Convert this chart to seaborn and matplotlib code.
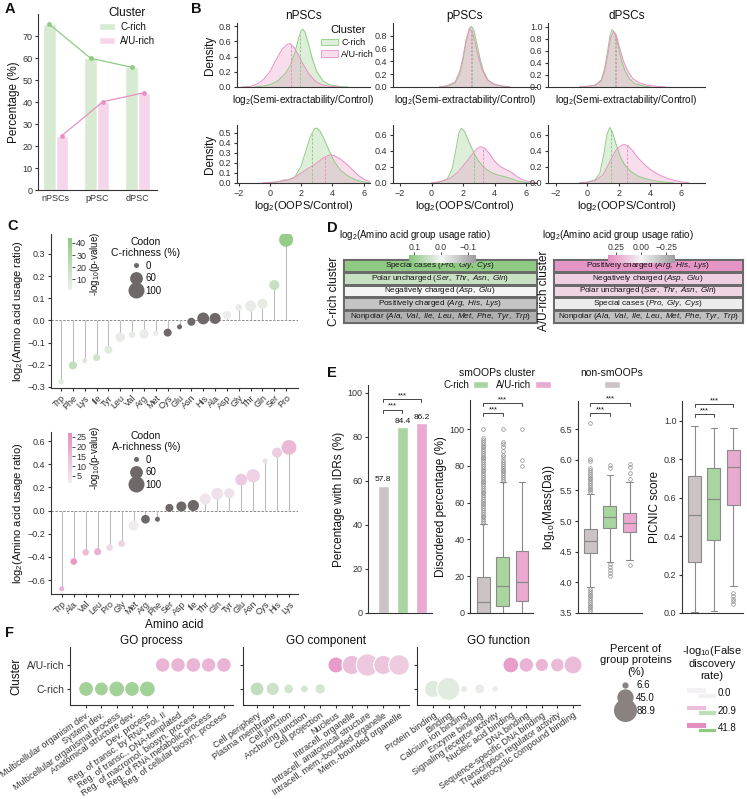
import numpy as np
import pandas as pd
import matplotlib
matplotlib.use('Agg')
import matplotlib.pyplot as plt
import matplotlib.cm as cm
import seaborn as sns
from matplotlib.colors import LinearSegmentedColormap, Normalize, to_rgba
from matplotlib.patches import Patch, Rectangle
from matplotlib.lines import Line2D
from matplotlib.legend_handler import HandlerBase

sns.set_theme(style='ticks')
plt.rcParams['font.family'] = ['Liberation Sans', 'DejaVu Sans']
plt.rcParams.update({
    'mathtext.fontset': 'custom', 'mathtext.rm': 'Liberation Sans',
    'mathtext.it': 'Liberation Sans:italic', 'mathtext.bf': 'Liberation Sans:bold',
    'axes.linewidth': 0.8, 'xtick.major.width': 0.8, 'ytick.major.width': 0.8,
    'xtick.major.size': 2.5, 'ytick.major.size': 2.5,
    'xtick.labelsize': 6.5, 'ytick.labelsize': 6.5, 'axes.labelsize': 8,
    'axes.edgecolor': '#333333', 'xtick.color': '#333333', 'ytick.color': '#333333',
    'text.color': '#111111', 'axes.labelcolor': '#111111',
    'xtick.major.pad': 1.5, 'ytick.major.pad': 1.5, 'axes.labelpad': 2,
    'legend.fontsize': 7,
})

# ------------------------------------------------------------------ data
# A
a_cells = ['nPSCs', 'pPSC', 'dPSC']
a_crich = [75.3, 59.9, 55.8]
a_aurich = [24.7, 40.1, 44.2]

# B  (density curves: x positions and density values)
b_cells = ['nPSCs', 'pPSCs', 'dPSCs']
semi_nPSCs_c_x = [-1.0, -0.5, 0.0, 0.5, 1.0, 1.3, 1.6, 1.85, 2.0, 2.1, 2.25, 2.45, 2.7, 3.0, 3.4, 3.8, 4.5, 5.0]
semi_nPSCs_c_y = [0.0, 0.01, 0.03, 0.08, 0.18, 0.28, 0.45, 0.65, 0.74, 0.76, 0.72, 0.58, 0.38, 0.2, 0.08, 0.03, 0.005, 0.0]
semi_nPSCs_a_x = [-1.8, -1.2, -0.8, -0.4, 0.0, 0.4, 0.8, 1.1, 1.3, 1.55, 1.8, 2.1, 2.5, 2.9, 3.3, 3.8, 4.5]
semi_nPSCs_a_y = [0.0, 0.01, 0.04, 0.1, 0.2, 0.36, 0.5, 0.56, 0.57, 0.52, 0.43, 0.31, 0.17, 0.08, 0.03, 0.01, 0.0]
semi_pPSCs_c_x = [0.5, 1.0, 1.5, 1.8, 2.0, 2.2, 2.4, 2.53, 2.7, 2.9, 3.1, 3.3, 3.6, 4.0, 4.5, 5.0]
semi_pPSCs_c_y = [0.0, 0.01, 0.06, 0.2, 0.42, 0.7, 0.9, 0.95, 0.88, 0.65, 0.42, 0.25, 0.1, 0.04, 0.01, 0.0]
semi_pPSCs_a_x = [0.5, 1.0, 1.5, 1.8, 2.0, 2.2, 2.42, 2.6, 2.8, 3.0, 3.2, 3.5, 3.9, 4.4, 5.0]
semi_pPSCs_a_y = [0.0, 0.02, 0.08, 0.25, 0.47, 0.75, 0.92, 0.86, 0.66, 0.45, 0.28, 0.13, 0.05, 0.02, 0.0]
semi_dPSCs_c_x = [-0.5, 0.0, 0.5, 0.9, 1.1, 1.3, 1.45, 1.58, 1.75, 1.95, 2.15, 2.4, 2.7, 3.0, 3.5, 4.0]
semi_dPSCs_c_y = [0.0, 0.01, 0.03, 0.12, 0.3, 0.6, 0.85, 0.95, 0.9, 0.7, 0.47, 0.27, 0.13, 0.06, 0.02, 0.0]
semi_dPSCs_a_x = [-0.5, 0.0, 0.5, 0.9, 1.1, 1.3, 1.5, 1.68, 1.85, 2.05, 2.3, 2.6, 2.9, 3.3, 3.8, 4.5, 5.0]
semi_dPSCs_a_y = [0.0, 0.01, 0.03, 0.1, 0.25, 0.52, 0.82, 0.92, 0.86, 0.66, 0.43, 0.25, 0.14, 0.07, 0.03, 0.01, 0.0]
oops_nPSCs_c_x = [0.0, 0.5, 0.9, 1.2, 1.6, 2.0, 2.3, 2.6, 2.85, 3.0, 3.2, 3.5, 3.8, 4.1, 4.5, 5.0, 5.5, 6.0, 6.5]
oops_nPSCs_c_y = [0.0, 0.01, 0.03, 0.03, 0.06, 0.17, 0.32, 0.47, 0.54, 0.55, 0.52, 0.43, 0.32, 0.22, 0.13, 0.07, 0.03, 0.01, 0.0]
oops_nPSCs_a_x = [-0.5, 0.3, 1.0, 1.5, 2.0, 2.5, 3.0, 3.4, 3.8, 4.1, 4.5, 4.9, 5.3, 5.7, 6.1, 6.5, 7.0]
oops_nPSCs_a_y = [0.0, 0.01, 0.025, 0.05, 0.1, 0.15, 0.2, 0.25, 0.28, 0.275, 0.24, 0.19, 0.13, 0.07, 0.03, 0.01, 0.0]
oops_pPSCs_c_x = [0.0, 0.5, 1.0, 1.3, 1.55, 1.75, 1.9, 2.1, 2.4, 2.7, 3.0, 3.4, 3.8, 4.2, 4.6, 5.0, 5.4, 5.8, 6.3]
oops_pPSCs_c_y = [0.0, 0.01, 0.05, 0.17, 0.42, 0.63, 0.68, 0.64, 0.5, 0.37, 0.27, 0.18, 0.13, 0.1, 0.08, 0.06, 0.03, 0.01, 0.0]
oops_pPSCs_a_x = [0.0, 0.6, 1.2, 1.7, 2.2, 2.6, 2.9, 3.15, 3.4, 3.7, 4.0, 4.4, 4.8, 5.1, 5.5, 5.9, 6.4, 6.9]
oops_pPSCs_a_y = [0.0, 0.02, 0.06, 0.14, 0.26, 0.36, 0.43, 0.45, 0.43, 0.36, 0.27, 0.2, 0.16, 0.13, 0.07, 0.03, 0.01, 0.0]
oops_dPSCs_c_x = [-0.5, 0.0, 0.5, 0.8, 1.05, 1.25, 1.43, 1.6, 1.85, 2.1, 2.4, 2.8, 3.2, 3.6, 4.0, 4.5, 5.0, 5.5]
oops_dPSCs_c_y = [0.0, 0.01, 0.04, 0.12, 0.35, 0.6, 0.69, 0.63, 0.47, 0.33, 0.22, 0.14, 0.09, 0.06, 0.04, 0.02, 0.01, 0.0]
oops_dPSCs_a_x = [-0.5, 0.0, 0.5, 1.0, 1.4, 1.8, 2.1, 2.35, 2.6, 2.9, 3.2, 3.6, 4.0, 4.4, 4.8, 5.2, 5.6, 6.0, 6.5]
oops_dPSCs_a_y = [0.0, 0.01, 0.03, 0.1, 0.25, 0.4, 0.46, 0.48, 0.46, 0.4, 0.32, 0.24, 0.17, 0.12, 0.08, 0.05, 0.03, 0.015, 0.0]
semi_median_c = [1.9, 2.6, 1.75]
semi_median_a = [1.37, 2.5, 1.85]
oops_median_c = [2.67, 2.7, 1.5]
oops_median_a = [3.55, 3.3, 2.52]

# C
c_aa = ['Trp', 'Phe', 'Lys', 'Ile', 'Tyr', 'Leu', 'Val', 'Arg', 'Met', 'Cys',
        'Glu', 'Asn', 'His', 'Ala', 'Asp', 'Gly', 'Thr', 'Gln', 'Ser', 'Pro']
c_ratio = [-0.276, -0.203, -0.182, -0.168, -0.132, -0.076, -0.064, -0.061, -0.058, -0.055,
           -0.029, -0.006, 0.009, 0.009, 0.024, 0.058, 0.065, 0.076, 0.16, 0.364]
c_logp = [8, 20, 10, 15, 7, 4, 4, 3, 3, 0.5, 0.5, 0.5, 0.5, 0.5, 3, 4, 4, 5, 18, 40]
c_richness = [0, 17, 0, 11, 17, 28, 8, 28, 0, 17, 0, 17, 50, 42, 17, 8, 42, 33, 33, 75]
a_aa = ['Trp', 'Ala', 'Val', 'Leu', 'Pro', 'Gly', 'Met', 'Arg', 'Phe', 'Ser',
        'Asp', 'Ile', 'Thr', 'Gln', 'Tyr', 'Glu', 'Asn', 'Cys', 'His', 'Lys']
a_ratio = [-0.675, -0.44, -0.36, -0.355, -0.32, -0.285, -0.13, -0.075, -0.075, 0.023,
           0.035, 0.043, 0.10, 0.145, 0.15, 0.267, 0.30, 0.43, 0.50, 0.545]
a_logp = [18, 24, 15, 18, 7, 9, 2, 0.5, 0.5, 0.5, 0.5, 0.5, 4, 5, 5, 11, 9, 6, 10, 16]
a_richness = [0, 8, 8, 11, 8, 8, 33, 22, 0, 17, 33, 44, 42, 50, 33, 50, 67, 0, 33, 83]

# D
d_groups_c = ['Special cases', 'Polar uncharged', 'Negatively charged', 'Positively charged', 'Nonpolar']
d_members_c = ['Pro, Gly, Cys', 'Ser, Thr, Asn, Gln', 'Asp, Glu', 'Arg, His, Lys',
               'Ala, Val, Ile, Leu, Met, Phe, Tyr, Trp']
d_ratio_c = [0.11, 0.05, 0.0, -0.07, -0.1]
d_groups_au = ['Positively charged', 'Negatively charged', 'Polar uncharged', 'Special cases', 'Nonpolar']
d_members_au = ['Arg, His, Lys', 'Asp, Glu', 'Ser, Thr, Asn, Gln', 'Pro, Gly, Cys',
                'Ala, Val, Ile, Leu, Met, Phe, Tyr, Trp']
d_ratio_au = [0.30, 0.12, 0.10, -0.03, -0.2]

# E
e_groups = ['non-smOOPs', 'C-rich', 'A/U-rich']
e_idr_pct = [57.8, 84.4, 86.2]
dis_med = [6, 14.5, 16.7]
dis_q1 = [0, 3.6, 6.7]
dis_q3 = [19.6, 30.4, 33.5]
dis_lo = [0, 0, 0]
dis_hi = [48.5, 71, 71]
dis_fliers_non = [49, 50, 51, 52, 53, 54, 55, 56, 57, 58, 59, 60, 61, 62, 63, 64, 65, 66, 67, 68, 69,
                  70, 71, 72, 73, 74, 75, 76, 77, 78, 79, 80, 81, 82, 83, 84, 85, 86, 87, 88, 89,
                  90, 91, 92, 93, 94, 95, 100]
dis_fliers_c = [72, 73, 74, 75, 76, 77, 78, 79, 80, 81, 82, 83, 85, 86, 88, 90, 92, 93, 100]
dis_fliers_au = [80, 83, 100]
mass_med = [4.68, 5.07, 4.97]
mass_q1 = [4.48, 4.88, 4.82]
mass_q3 = [4.87, 5.24, 5.14]
mass_lo = [3.92, 4.33, 4.37]
mass_hi = [5.44, 5.75, 5.64]
mass_fliers_non = [3.53, 3.56, 3.59, 3.62, 3.65, 3.68, 3.71, 3.74, 3.77, 3.8, 3.83, 3.86, 3.89,
                   5.47, 5.5, 5.53, 5.56, 5.59, 5.62, 5.65, 5.68, 5.71, 5.74, 5.77, 5.8, 5.83, 5.86,
                   5.98, 6.01, 6.6]
mass_fliers_c = [4.1, 4.15, 4.2, 4.25, 4.3, 5.86, 5.92]
mass_fliers_au = [4.29, 5.68, 5.78, 5.88, 5.93]
pic_med = [0.51, 0.595, 0.76]
pic_q1 = [0.267, 0.379, 0.564]
pic_q3 = [0.716, 0.756, 0.85]
pic_lo = [0.003, 0.012, 0.14]
pic_hi = [0.974, 0.963, 0.963]
pic_fliers_non = []
pic_fliers_c = []
pic_fliers_au = [0.045, 0.06, 0.075, 0.09, 0.105]

# F
go_process_terms = ['Multicellular organism dev.', 'System dev.', 'Multicellular organismal process',
                    'Anatomical structure dev.', 'Dev. process', 'Reg. of transc. by RNA Pol. II',
                    'Reg. of transc., DNA-templated', 'Reg. of macromol. biosyn. process',
                    'Reg. of RNA metabolic process', 'Reg. of cellular biosyn. process']
go_process_pct = [38, 33, 43, 38, 43, 36, 36, 37, 36, 37]
go_process_fdr = [33, 33, 33, 33, 33, 25, 25, 25, 25, 25]
go_component_terms = ['Cell periphery', 'Plasma membrane', 'Cell junction', 'Anchoring junction',
                      'Cell projection', 'Nucleus', 'Intracell. organelle',
                      'Intracell. anatomical structure', 'Intracell. mem.-bounded organelle',
                      'Mem.-bounded organelle']
go_component_pct = [33, 30, 17, 11, 19, 44, 63, 85, 63, 72]
go_component_fdr = [20, 16, 13, 12, 12, 36, 21, 17, 19, 16]
go_function_terms = ['Protein binding', 'Binding', 'Calcium ion binding', 'Enzyme binding',
                     'Signaling receptor activity', 'Nucleic acid binding', 'DNA binding',
                     'Sequence-specific DNA binding', 'Transcription regulator activity',
                     'Heterocyclic compound binding']
go_function_pct = [50, 88.9, 9, 17, 7.5, 43, 36, 30, 33, 55]
go_function_fdr = [8, 7, 5, 4, 3, 34, 26, 25, 23, 22]
go_cluster = ['C-rich'] * 5 + ['A/U-rich'] * 5
size_legend_vals = [6.6, 45.0, 88.9]
fdr_legend_vals = [0.0, 20.9, 41.8]

# ------------------------------------------------------------------ styling
W, H = 747, 799
fig = plt.figure(figsize=(W / 100, H / 100), dpi=100)


def add_ax(x0, y0, x1, y1):
    return fig.add_axes([x0 / W, 1 - y1 / H, (x1 - x0) / W, (y1 - y0) / H])


def fxy(x, y):
    return (x / W, 1 - y / H)


GREEN = '#8fcc82'
PINK = '#e890c4'
A_GREEN_BAR = '#d7ebd3'
A_PINK_BAR = '#f6d6ea'
DARK = '#6f6868'
E_GREY = '#ccc4c4'
E_GREEN = '#a9d69e'
E_PINK = '#e9a9d0'
EDGE = '#8a8a8a'

for lab, (x, y) in zip('ABCDEF', [(5, 2), (191, 2), (7, 219), (327, 221), (327, 366), (5, 626)]):
    fig.text(*fxy(x, y), lab, fontsize=10.5, fontweight='bold', va='top', ha='left')

# ------------------------------------------------------------------ Panel A
axA = add_ax(38, 14, 157, 190)
dfA = pd.DataFrame({'cell': a_cells * 2, 'Cluster': ['C-rich'] * 3 + ['A/U-rich'] * 3,
                    'pct': a_crich + a_aurich})
sns.barplot(data=dfA, x='cell', y='pct', hue='Cluster', hue_order=['C-rich', 'A/U-rich'],
            palette=[A_GREEN_BAR, A_PINK_BAR], width=0.6, saturation=1, ax=axA, legend=False)
for cont, vals, col in zip(axA.containers, [a_crich, a_aurich], [GREEN, PINK]):
    xs = [p.get_x() + p.get_width() / 2 for p in cont]
    sns.lineplot(x=xs, y=vals, color=col, lw=0.9, marker='o', markersize=3.5,
                 markeredgewidth=0, ax=axA)
axA.set_xlim(-0.43, 2.47)
axA.set_ylim(0, 80)
axA.set_yticks(range(0, 71, 10))
axA.set_xlabel('')
axA.set_ylabel('Percentage (%)', fontsize=8.5)
axA.tick_params(axis='x', length=0, pad=3)
sns.despine(ax=axA)
axA.legend(handles=[Patch(fc=A_GREEN_BAR), Patch(fc=A_PINK_BAR)], labels=['C-rich', 'A/U-rich'],
           title='Cluster', loc='upper left', bbox_to_anchor=fxy(93, 1), bbox_transform=fig.transFigure,
           frameon=False, fontsize=7, title_fontsize=8.5, handlelength=1.7, handleheight=0.7,
           labelspacing=0.35, handletextpad=0.5, borderpad=0.1)

# ------------------------------------------------------------------ Panel B
semi_curves = [((semi_nPSCs_c_x, semi_nPSCs_c_y), (semi_nPSCs_a_x, semi_nPSCs_a_y)),
               ((semi_pPSCs_c_x, semi_pPSCs_c_y), (semi_pPSCs_a_x, semi_pPSCs_a_y)),
               ((semi_dPSCs_c_x, semi_dPSCs_c_y), (semi_dPSCs_a_x, semi_dPSCs_a_y))]
oops_curves = [((oops_nPSCs_c_x, oops_nPSCs_c_y), (oops_nPSCs_a_x, oops_nPSCs_a_y)),
               ((oops_pPSCs_c_x, oops_pPSCs_c_y), (oops_pPSCs_a_x, oops_pPSCs_a_y)),
               ((oops_dPSCs_c_x, oops_dPSCs_c_y), (oops_dPSCs_a_x, oops_dPSCs_a_y))]
b_cols = [(237, 370), (393, 537), (548, 705)]
b_xlims = [(-2.1, 6.4), (-2.45, 6.7), (-2.5, 7.5)]
b_top_ylim = [0.84, 1.0, 1.06]
b_top_ticks = [[0, 0.2, 0.4, 0.6, 0.8], [0, 0.2, 0.4, 0.6, 0.8], [0, 0.2, 0.4, 0.6, 0.8, 1.0]]
b_bot_ylim = [0.58, 0.72, 0.72]
b_bot_ticks = [[0, 0.1, 0.2, 0.3, 0.4, 0.5], [0, 0.2, 0.4, 0.6], [0, 0.2, 0.4, 0.6]]


def density_panel(ax, curves, medians_c, medians_a, i):
    for (xs, ys), med, col in zip(curves, [medians_c[i], medians_a[i]], [GREEN, PINK]):
        ax.fill_between(xs, ys, color=col, alpha=0.3, lw=0)
        sns.lineplot(x=xs, y=ys, color=col, lw=0.7, ax=ax)
        ax.vlines(med, 0, np.interp(med, xs, ys), color=col, lw=0.7, ls=(0, (2.5, 1.5)))


for i, (x0, x1) in enumerate(b_cols):
    axt = add_ax(x0, 23, x1, 87)
    density_panel(axt, semi_curves[i], semi_median_c, semi_median_a, i)
    axt.set_xlim(*b_xlims[i])
    axt.set_ylim(0, b_top_ylim[i])
    axt.set_yticks(b_top_ticks[i])
    axt.set_xticks([-2, 0, 2, 4, 6])
    axt.tick_params(axis='x', length=0, labelbottom=False)
    axt.set_title(b_cells[i], fontsize=8.5, pad=3)
    axt.set_xlabel('log$_2$(Semi-extractability/Control)', fontsize=7.2, labelpad=4.5)
    axt.set_ylabel('Density' if i == 0 else '', fontsize=8.5)
    sns.despine(ax=axt)
    axb = add_ax(x0, 125, x1, 183)
    density_panel(axb, oops_curves[i], oops_median_c, oops_median_a, i)
    axb.set_xlim(*b_xlims[i])
    axb.set_ylim(0, b_bot_ylim[i])
    axb.set_yticks(b_bot_ticks[i])
    axb.set_xticks([-2, 0, 2, 4, 6])
    axb.set_xlabel('log$_2$(OOPS/Control)', fontsize=8, labelpad=1)
    axb.set_ylabel('Density' if i == 0 else '', fontsize=8.5)
    sns.despine(ax=axb)
    if i == 0:
        axt.legend(handles=[Patch(fc=to_rgba(GREEN, 0.3), ec=GREEN, lw=0.6),
                            Patch(fc=to_rgba(PINK, 0.3), ec=PINK, lw=0.6)],
                   labels=['C-rich', 'A/U-rich'], title='Cluster', loc='upper left',
                   bbox_to_anchor=fxy(316, 20), bbox_transform=fig.transFigure, frameon=False,
                   fontsize=6.5, title_fontsize=8, handlelength=1.8, handleheight=0.8,
                   labelspacing=0.3, handletextpad=0.4, borderpad=0.1)

# ------------------------------------------------------------------ Panel C
SIG = 1.3
cmap_cg = LinearSegmentedColormap.from_list('cg', ['#eeeeee', '#8dca7f'])
cmap_cp = LinearSegmentedColormap.from_list('cp', ['#f1eef0', '#e68fc3'])


def size_of(v):
    return 13 + 1.2 * v


def lollipop(ax, aa, ratio, logp, rich, cmap, vmax):
    pos = np.arange(len(aa))
    df = pd.DataFrame({'pos': pos, 'ratio': ratio, 'logp': logp, 'rich': rich})
    ax.axhline(0, color='#8a8a8a', lw=0.7, ls=(0, (2.5, 1.5)), zorder=1)
    ax.vlines(pos, 0, ratio, color='#bdbdbd', lw=0.8, zorder=1)
    sig = df[df.logp >= SIG]
    ns = df[df.logp < SIG]
    sns.scatterplot(data=sig, x='pos', y='ratio', hue='logp', palette=cmap, hue_norm=(SIG, vmax),
                    size='rich', sizes=(13, 133), size_norm=(0, 100), edgecolor='none',
                    legend=False, ax=ax, zorder=3)
    sns.scatterplot(data=ns, x='pos', y='ratio', color=DARK, size='rich', sizes=(13, 133),
                    size_norm=(0, 100), edgecolor='none', legend=False, ax=ax, zorder=3)
    ax.set_xticks(pos)
    ax.set_xticklabels(aa, rotation=45, ha='right', rotation_mode='anchor', fontsize=6.5)
    ax.set_ylabel('log$_2$(Amino acid usage ratio)', fontsize=8)
    sns.despine(ax=ax)


def size_legend(ax, title, ytop):
    handles = [Line2D([], [], ls='', marker='o', color=DARK, markeredgewidth=0,
                      markersize=np.sqrt(size_of(v))) for v in [0, 60, 100]]
    leg = ax.legend(handles, ['0', '60', '100'], title=title, loc='upper center',
                    bbox_to_anchor=fxy(146, ytop), bbox_transform=fig.transFigure, frameon=False,
                    fontsize=7, title_fontsize=7.5, handletextpad=0.3, labelspacing=0.25,
                    borderpad=0, handlelength=1.3)
    leg.get_title().set_multialignment('center')


def pcolorbar(x0, y0, x1, y1, cmap, vmax, ticks):
    cax = add_ax(x0, y0, x1, y1)
    cb = fig.colorbar(cm.ScalarMappable(norm=Normalize(SIG, vmax), cmap=cmap), cax=cax)
    cb.set_ticks(ticks)
    cb.outline.set_visible(False)
    cax.tick_params(length=2, labelsize=6.5, pad=1, width=0.6)
    cb.set_label('-log$_{10}$(p-value)', fontsize=7, labelpad=1)


axC1 = add_ax(51, 234, 298, 388)
lollipop(axC1, c_aa, c_ratio, c_logp, c_richness, cmap_cg, 44)
axC1.set_xlim(-0.85, 20.0)
axC1.set_ylim(-0.305, 0.39)
axC1.set_yticks([-0.3, -0.2, -0.1, 0.0, 0.1, 0.2, 0.3])
axC1.set_xlabel('')
pcolorbar(68, 238, 72, 290, cmap_cg, 44, [10, 20, 30, 40])
size_legend(axC1, 'Codon\nC-richness (%)', 232)

axC2 = add_ax(51, 432, 298, 594)
lollipop(axC2, a_aa, a_ratio, a_logp, a_richness, cmap_cp, 27)
axC2.set_xlim(-0.9, 19.75)
axC2.set_ylim(-0.72, 0.678)
axC2.set_yticks([-0.6, -0.4, -0.2, 0.0, 0.2, 0.4, 0.6])
axC2.set_xlabel('Amino acid', fontsize=8.5, labelpad=1)
pcolorbar(68, 433, 72, 483, cmap_cp, 27, [5, 10, 15, 20, 25])
size_legend(axC2, 'Codon\nA-richness (%)', 426)

# ------------------------------------------------------------------ Panel D
cmap_dg = LinearSegmentedColormap.from_list('dg', [(0, '#9c9c9c'), (0.52, '#f4f4f4'), (1, '#86c57a')])
cmap_dp = LinearSegmentedColormap.from_list('dp', [(0, '#9c9c9c'), (0.507, '#f4f4f4'), (1, '#e38cc0')])


def group_table(ax, groups, members, ratios, cmap, vmin, vmax, ylabel):
    sns.heatmap(np.array(ratios).reshape(-1, 1), cmap=cmap, vmin=vmin, vmax=vmax, cbar=False,
                linewidths=0.8, linecolor='#6a6a6a', xticklabels=False, yticklabels=False, ax=ax)
    for i, (g, m) in enumerate(zip(groups, members)):
        ax.text(0.5, i + 0.5, g + r' $\mathit{(' + m.replace(' ', r'\ ') + r')}$',
                ha='center', va='center', fontsize=5.9)
    for s in ax.spines.values():
        s.set_visible(True)
        s.set_color('#6a6a6a')
        s.set_linewidth(0.8)
    ax.set_ylabel(ylabel, fontsize=8.5, labelpad=2)


def hcolorbar(x0, x1, cmap, vmin, vmax, ticks, labels, title_x):
    cax = add_ax(x0, 255, x1, 263)
    cb = fig.colorbar(cm.ScalarMappable(norm=Normalize(vmin, vmax), cmap=cmap), cax=cax,
                      location='top')
    cax.invert_xaxis()
    cb.set_ticks(ticks)
    cb.set_ticklabels(labels)
    cb.outline.set_visible(False)
    cax.tick_params(length=2, labelsize=6.2, pad=0.5, width=0.6)
    fig.text(*fxy(title_x, 235), 'log$_2$(Amino acid group usage ratio)', ha='center',
             va='center', fontsize=7)


axD1 = add_ax(343, 259, 537, 323)
group_table(axD1, d_groups_c, d_members_c, d_ratio_c, cmap_dg, -0.13, 0.12, 'C-rich cluster')
hcolorbar(409, 476, cmap_dg, -0.13, 0.12, [0.1, 0.0, -0.1], ['0.1', '0.0', '\u22120.1'], 415)
axD2 = add_ax(553, 259, 743, 323)
group_table(axD2, d_groups_au, d_members_au, d_ratio_au, cmap_dp, -0.34, 0.33, 'A/U-rich cluster')
hcolorbar(608, 675, cmap_dp, -0.34, 0.33, [0.25, 0.0, -0.25], ['0.25', '0.00', '\u22120.25'], 618)

# ------------------------------------------------------------------ Panel E
E_COLS = [E_GREY, E_GREEN, E_PINK]


def bracket(ax, x1, x2, y, h):
    ax.plot([x1, x1, x2, x2], [y - h, y, y, y - h], color='#444444', lw=0.7, clip_on=False)
    ax.text((x1 + x2) / 2, y, '***', ha='center', va='bottom', fontsize=5.5, clip_on=False)


def boxes(ax, med, q1, q3, lo, hi, fliers):
    stats = [dict(med=med[i], q1=q1[i], q3=q3[i], whislo=lo[i], whishi=hi[i], fliers=fliers[i])
             for i in range(3)]
    bp = ax.bxp(stats, positions=[0, 1, 2], widths=0.67, patch_artist=True, showfliers=True,
                boxprops=dict(edgecolor=EDGE, lw=0.8), medianprops=dict(color=EDGE, lw=0.9),
                whiskerprops=dict(color=EDGE, lw=0.8), capprops=dict(color=EDGE, lw=0.8),
                flierprops=dict(marker='o', markersize=2.6, markerfacecolor='none',
                                markeredgecolor=EDGE, markeredgewidth=0.5))
    for patch, c in zip(bp['boxes'], E_COLS):
        patch.set_facecolor(c)
    ax.set_xticks([])
    sns.despine(ax=ax)


axE1 = add_ax(368, 385, 432, 613)
sns.barplot(x=e_groups, y=e_idr_pct, hue=e_groups, palette=E_COLS, width=0.6, saturation=1,
            legend=False, ax=axE1)
for i, v in enumerate(e_idr_pct):
    axE1.text(i, v + 1.2, f'{v}', ha='center', va='bottom', fontsize=6)
axE1.set_xlim(-0.8, 2.55)
axE1.set_ylim(0, 103.6)
axE1.set_yticks([0, 20, 40, 60, 80, 100])
axE1.set_xticks([])
axE1.set_ylabel('Percentage with IDRs (%)', fontsize=8.5)
sns.despine(ax=axE1)
bracket(axE1, 0, 1, 92.3, 1.5)
bracket(axE1, 0, 2, 97.2, 1.5)

axE2 = add_ax(470, 400, 533, 613)
boxes(axE2, dis_med, dis_q1, dis_q3, dis_lo, dis_hi, [dis_fliers_non, dis_fliers_c, dis_fliers_au])
axE2.set_xlim(-0.7, 2.57)
axE2.set_ylim(0, 115.8)
axE2.set_yticks([0, 20, 40, 60, 80, 100])
axE2.set_ylabel('Disordered percentage (%)', fontsize=8.5)
bracket(axE2, 0, 1, 108.7, 1.7)
bracket(axE2, 0, 2, 114.2, 1.7)

axE3 = add_ax(578, 401, 642, 613)
boxes(axE3, mass_med, mass_q1, mass_q3, mass_lo, mass_hi, [mass_fliers_non, mass_fliers_c, mass_fliers_au])
axE3.set_xlim(-0.62, 2.63)
axE3.set_ylim(3.5, 6.96)
axE3.set_yticks([3.5, 4.0, 4.5, 5.0, 5.5, 6.0, 6.5])
axE3.set_ylabel('log$_{10}$(Mass(Da))', fontsize=8.5)
bracket(axE3, 0, 1, 6.76, 0.05)
bracket(axE3, 0, 2, 6.93, 0.05)

axE4 = add_ax(682, 401, 743, 613)
boxes(axE4, pic_med, pic_q1, pic_q3, pic_lo, pic_hi, [pic_fliers_non, pic_fliers_c, pic_fliers_au])
axE4.set_xlim(-0.65, 2.5)
axE4.set_ylim(0, 1.104)
axE4.set_yticks([0.0, 0.2, 0.4, 0.6, 0.8, 1.0])
axE4.set_ylabel('PICNIC score', fontsize=8.5)
bracket(axE4, 0, 1, 1.035, 0.016)
bracket(axE4, 0, 2, 1.088, 0.016)

legE1 = fig.legend(handles=[Patch(fc=E_GREEN), Patch(fc=E_PINK)], labels=['C-rich', 'A/U-rich'],
                   title='smOOPs cluster', ncol=2, markerfirst=False, loc='upper center',
                   bbox_to_anchor=fxy(497, 362), frameon=False, fontsize=7, title_fontsize=7.5,
                   handlelength=1.6, handleheight=0.7, columnspacing=0.8, handletextpad=0.4,
                   borderpad=0.1, labelspacing=0.2)
legE2 = fig.legend(handles=[Patch(fc=E_GREY)], labels=[''], title='non-smOOPs', loc='upper center',
                   bbox_to_anchor=fxy(612, 362), frameon=False, fontsize=7, title_fontsize=7.5,
                   handlelength=1.6, handleheight=0.7, handletextpad=0, borderpad=0.1,
                   labelspacing=0.2)

# ------------------------------------------------------------------ Panel F
cmap_fg = LinearSegmentedColormap.from_list('fg', ['#f1f1f3', '#8dca80'])
cmap_fp = LinearSegmentedColormap.from_list('fp', ['#f3f1f3', '#e48dc1'])
FDR_MAX = 41.8
PCT_MAX = 88.9
S_MAX = 275


def go_panel(ax, terms, pct, fdr, title, xlim, show_y):
    df = pd.DataFrame({'pos': np.arange(len(terms)), 'pct': pct, 'fdr': fdr, 'cluster': go_cluster})
    df['y'] = np.where(df.cluster == 'C-rich', 0, 1)
    for cl, cmap in [('C-rich', cmap_fg), ('A/U-rich', cmap_fp)]:
        sub = df[df.cluster == cl]
        sns.scatterplot(data=sub, x='pos', y='y', hue='fdr', palette=cmap, hue_norm=(0, FDR_MAX),
                        size='pct', sizes=(0, S_MAX), size_norm=(0, PCT_MAX), edgecolor='white',
                        linewidth=0.9, legend=False, ax=ax, zorder=3, clip_on=False)
    ax.set_xlim(*xlim)
    ax.set_ylim(-0.67, 1.75)
    ax.set_xticks(df.pos)
    ax.set_xticklabels(terms, rotation=35, ha='right', rotation_mode='anchor', fontsize=6.5)
    ax.set_yticks([1, 0])
    if show_y:
        ax.set_yticklabels(['A/U-rich', 'C-rich'], fontsize=7.5)
        ax.set_ylabel('Cluster', fontsize=8.5, labelpad=3)
    else:
        ax.set_yticklabels([])
        ax.set_ylabel('')
    ax.set_xlabel('')
    ax.set_title(title, fontsize=8.5, pad=2)
    sns.despine(ax=ax)


axF1 = add_ax(70, 647, 233, 705)
go_panel(axF1, go_process_terms, go_process_pct, go_process_fdr, 'GO process', (-1.05, 9.59), True)
axF2 = add_ax(243, 647, 409, 705)
go_panel(axF2, go_component_terms, go_component_pct, go_component_fdr, 'GO component', (-0.89, 9.63), False)
axF3 = add_ax(417, 647, 580, 705)
go_panel(axF3, go_function_terms, go_function_pct, go_function_fdr, 'GO function', (-1.03, 9.45), False)

size_handles = [Line2D([], [], ls='', marker='o', color='#8a8181', markeredgewidth=0,
                       markersize=np.sqrt(S_MAX * v / PCT_MAX)) for v in size_legend_vals]
legF1 = fig.legend(size_handles, [f'{v:.1f}' for v in size_legend_vals],
                   title='Percent of\ngroup proteins\n(%)', loc='upper center',
                   bbox_to_anchor=fxy(636, 639), frameon=False, fontsize=7, title_fontsize=8,
                   handletextpad=0.4, labelspacing=0.3, borderpad=0, handlelength=1.6)
legF1.get_title().set_multialignment('center')


class DualPatch:
    def __init__(self, c_top, c_bot):
        self.c_top = c_top
        self.c_bot = c_bot


class DualPatchHandler(HandlerBase):
    def create_artists(self, legend, orig, xd, yd, width, height, fontsize, trans):
        r1 = Rectangle((-xd, -yd + height * 0.5), width * 0.64, height * 0.5, fc=orig.c_top,
                       ec='none', transform=trans)
        r2 = Rectangle((-xd + width * 0.36, -yd), width * 0.64, height * 0.5, fc=orig.c_bot,
                       ec='white', lw=0.6, transform=trans)
        return [r1, r2]


fdr_handles = [DualPatch(cmap_fp(v / FDR_MAX), cmap_fg(v / FDR_MAX)) for v in fdr_legend_vals]
legF2 = fig.legend(fdr_handles, [f'{v:.1f}' for v in fdr_legend_vals],
                   title='-log$_{10}$(False\ndiscovery\nrate)', loc='upper center',
                   bbox_to_anchor=fxy(712, 639), frameon=False, fontsize=7, title_fontsize=8,
                   handler_map={DualPatch: DualPatchHandler()}, handlelength=2.9, handleheight=1.1,
                   handletextpad=0.2, labelspacing=0.75, borderpad=0)
legF2.get_title().set_multialignment('center')

fig.savefig('out.png', dpi=100)
